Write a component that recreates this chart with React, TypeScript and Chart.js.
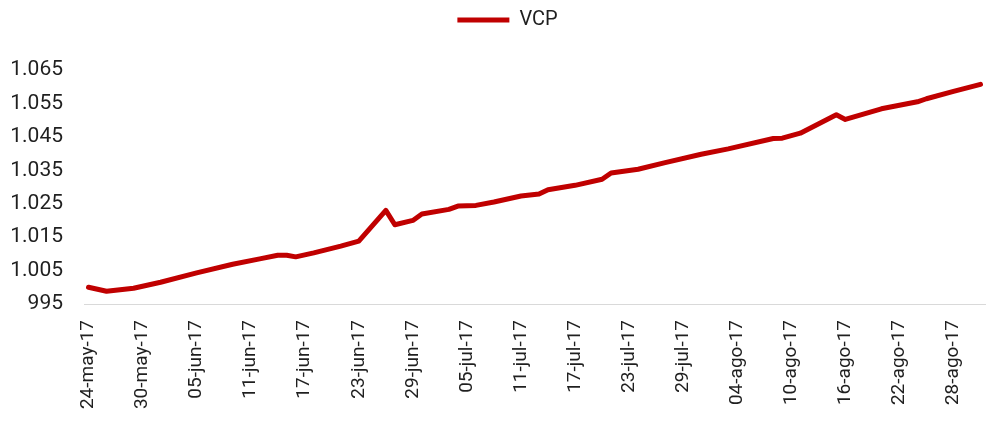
import React, { useEffect, useRef } from "react";
import { Chart, registerables } from "chart.js";

Chart.register(...registerables);

// Days elapsed since 24-may-17 for each reading of the series
const dayOffsets = [
  0, 2, 5, 8, 12, 16, 19, 21, 22, 23, 25, 28, 30, 33, 34, 36, 37, 40, 41, 43,
  45, 48, 50, 51, 54, 57, 58, 61, 64, 68, 71, 76, 77, 79, 83, 84, 88, 92, 93,
  96, 99,
];

// VCP values
const vcpValues = [
  1000.0, 998.8, 999.7, 1001.5, 1004.3, 1006.9, 1008.5, 1009.6, 1009.6, 1009.1,
  1010.3, 1012.3, 1013.8, 1023.0, 1018.7, 1020.0, 1021.9, 1023.3, 1024.3,
  1024.5, 1025.5, 1027.3, 1027.9, 1029.2, 1030.5, 1032.3, 1034.2, 1035.3,
  1037.3, 1039.8, 1041.4, 1044.5, 1044.6, 1046.1, 1051.6, 1050.2, 1053.4,
  1055.5, 1056.4, 1058.6, 1060.7,
];

// X tick labels, one every 6 days
const xTickLabels = [
  "24-may-17", "30-may-17", "05-jun-17", "11-jun-17", "17-jun-17",
  "23-jun-17", "29-jun-17", "05-jul-17", "11-jul-17", "17-jul-17",
  "23-jul-17", "29-jul-17", "04-ago-17", "10-ago-17", "16-ago-17",
  "22-ago-17", "28-ago-17",
];
const xTickStep = 6;
const totalDays = 100;

const yMin = 995;
const yMax = 1065;
const yStep = 10;

const seriesLabel = "VCP";

function formatThousands(v: number): string {
  const n = Math.round(v);
  if (n < 1000) return String(n);
  return `${Math.floor(n / 1000)}.${String(n % 1000).padStart(3, "0")}`;
}

const legendTweaks = {
  id: "legendTweaks",
  beforeInit(chart: any) {
    const orig = chart.legend.fit;
    chart.legend.fit = function () {
      orig.bind(chart.legend)();
      this.height += 30;
    };
  },
  afterLayout(chart: any) {
    if (chart.legend) {
      chart.legend.left += 9;
      chart.legend.right += 9;
    }
  },
};

export default function App() {
  const ref = useRef<HTMLCanvasElement | null>(null);

  useEffect(() => {
    if (!ref.current) return;
    const textColor = "#1f1f1f";
    const chart = new Chart(ref.current, {
      type: "line",
      data: {
        datasets: [
          {
            label: seriesLabel,
            data: dayOffsets.map((d, i) => ({ x: d, y: vcpValues[i] })),
            borderColor: "#C00000",
            backgroundColor: "#C00000",
            borderWidth: 5,
            borderCapStyle: "round",
            borderJoinStyle: "round",
            pointRadius: 0,
            pointHoverRadius: 0,
            tension: 0,
            fill: false,
          },
        ],
      },
      options: {
        animation: false,
        responsive: true,
        maintainAspectRatio: false,
        layout: { padding: { left: 12, right: 6, top: 0, bottom: 6 } },
        plugins: {
          tooltip: { enabled: false },
          legend: {
            display: true,
            position: "top",
            labels: {
              usePointStyle: true,
              pointStyle: "line",
              pointStyleWidth: 52,
              color: textColor,
              padding: 10,
              font: { family: "Roboto", size: 20 },
            },
          },
        },
        scales: {
          x: {
            type: "linear",
            min: -0.5,
            max: totalDays - 0.5,
            grid: { display: false, drawTicks: false },
            border: { display: true, color: "#d9d9d9", width: 1 },
            afterFit: (scale: any) => {
              scale.paddingLeft = 0;
              scale.paddingRight = 0;
              scale.height = 111;
            },
            ticks: {
              stepSize: xTickStep,
              includeBounds: false,
              autoSkip: false,
              minRotation: 90,
              maxRotation: 90,
              padding: 16,
              color: textColor,
              font: { family: "Roboto", size: 19 },
              callback: (value: any) => {
                const v = Number(value);
                if (v % xTickStep !== 0) return "";
                return xTickLabels[v / xTickStep] ?? "";
              },
            },
          },
          y: {
            min: yMin,
            max: yMax,
            grid: { display: false, drawTicks: false },
            border: { display: false },
            afterFit: (scale: any) => {
              scale.width = 72;
            },
            ticks: {
              stepSize: yStep,
              padding: 21,
              color: textColor,
              font: { family: "Roboto", size: 21 },
              callback: (value: any) => formatThousands(Number(value)),
            },
          },
        },
      },
      plugins: [legendTweaks],
    });
    return () => chart.destroy();
  }, []);

  return (
    <div
      style={{
        position: "absolute",
        left: 0,
        top: 0,
        width: 991,
        height: 421,
        background: "#ffffff",
      }}
    >
      <canvas ref={ref} />
    </div>
  );
}
